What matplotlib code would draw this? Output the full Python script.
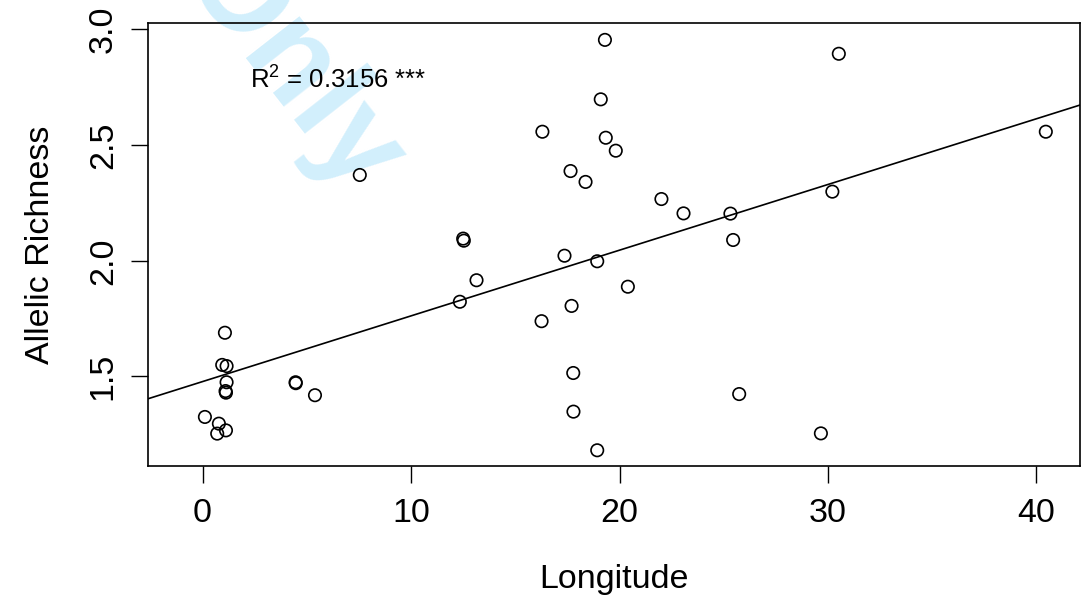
import matplotlib
matplotlib.use("Agg")
import matplotlib.pyplot as plt

plt.rcParams['font.family'] = ['Liberation Sans', 'DejaVu Sans']
plt.rcParams['mathtext.default'] = 'regular'

longitude = [1.07, 0.94, 1.15, 1.15, 1.10, 1.12, 4.46, 4.47, 5.39, 0.11, 0.78, 0.70, 1.12,
             12.50, 12.53, 13.14, 12.34, 7.54,
             19.30, 19.10, 16.30, 19.34, 19.82, 17.65, 18.37, 22.01, 23.07, 17.36, 18.93,
             20.40, 17.70, 16.26, 17.78, 17.79, 18.93,
             25.32, 25.45, 30.21, 25.74, 29.66, 30.52, 40.45]
richness = [1.689, 1.550, 1.545, 1.475, 1.437, 1.430, 1.475, 1.471, 1.419, 1.325, 1.296, 1.253, 1.267,
            2.096, 2.087, 1.916, 1.823, 2.371,
            2.955, 2.698, 2.558, 2.532, 2.476, 2.388, 2.341, 2.267, 2.205, 2.022, 1.998,
            1.888, 1.805, 1.739, 1.515, 1.348, 1.181,
            2.204, 2.090, 2.299, 1.424, 1.254, 2.895, 2.558]

fit_intercept = 1.478
fit_slope = 0.0284
r2_label = "R$^2$ = 0.3156 ***"
x_ticks = [0, 10, 20, 30, 40]
y_ticks = [1.5, 2.0, 2.5, 3.0]

fig = plt.figure(figsize=(10.84, 5.96), dpi=100)
fig.text(0.268, 0.885, "Only", fontsize=92, fontweight='bold', color='#d2effc',
         rotation=-52, ha='center', va='center', zorder=-1)

ax = fig.add_axes([148/1084, 1-466/596, (1080-148)/1084, (466-23)/596])
ax.patch.set_alpha(0)
ax.scatter(longitude, richness, s=80, facecolors='none', edgecolors='black', linewidths=1.2, zorder=3)
ax.axline((0, fit_intercept), slope=fit_slope, color='black', lw=1.2, zorder=2)

ax.set_xlim(-2.62, 42.09)
ax.set_ylim(1.113, 3.028)
ax.set_xticks(x_ticks)
ax.set_yticks(y_ticks)
ax.set_xticklabels([str(t) for t in x_ticks])
ax.set_yticklabels([f"{t:.1f}" for t in y_ticks], rotation=90, va='center')
ax.tick_params(axis='both', length=12, width=1.0, labelsize=24.5, direction='out')
ax.tick_params(axis='x', pad=11)
ax.tick_params(axis='y', pad=9)
for sp in ax.spines.values():
    sp.set_linewidth(1.2)

ax.set_xlabel("Longitude", fontsize=24.5, labelpad=25)
ax.set_ylabel("Allelic Richness", fontsize=24.5, labelpad=23)

ax.text(6.5, 2.78, r2_label, fontsize=18.5, ha='center', va='center')

fig.savefig("out.png", dpi=100)
